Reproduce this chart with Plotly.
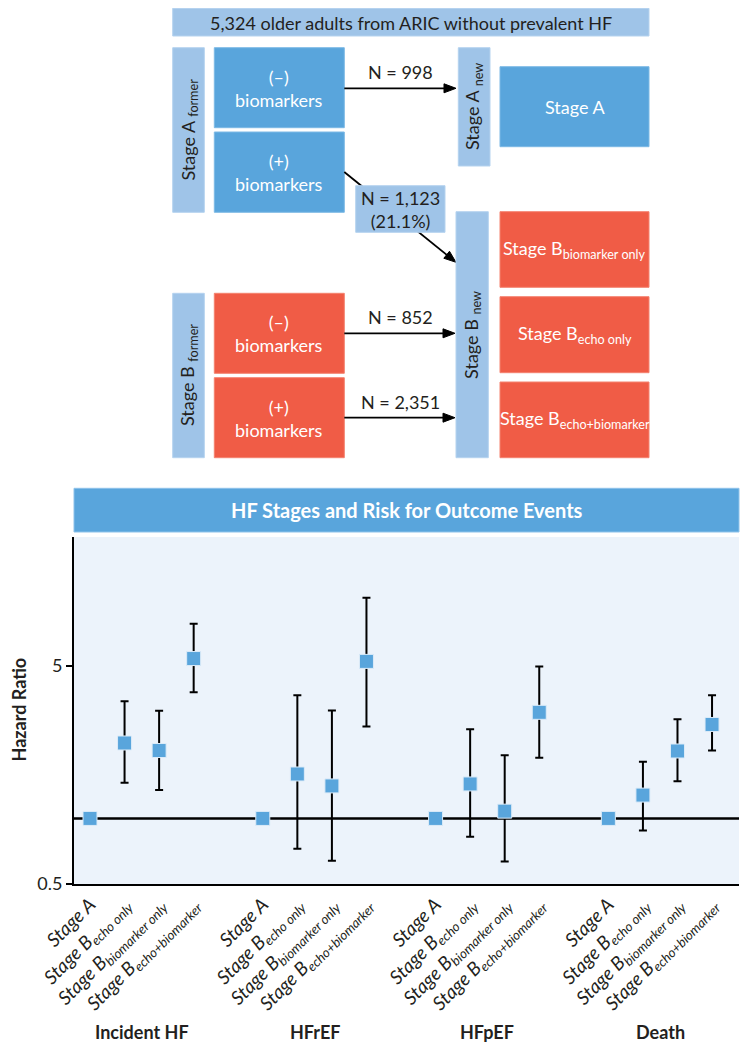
import math
import plotly.graph_objects as go

# ---------------- data ----------------
outcomes = ["Incident HF", "HFrEF", "HFpEF", "Death"]
stage_labels = [
    "<i>Stage A</i>",
    "<i>Stage B<sub>echo only</sub></i>",
    "<i>Stage B<sub>biomarker only</sub></i>",
    "<i>Stage B<sub>echo+biomarker</sub></i>",
]
# hazard ratios (Stage A = reference), lower / upper 95% CI
hr_incident = [1.0, 2.22, 2.05, 5.42]
lo_incident = [1.0, 1.46, 1.35, 3.80]
hi_incident = [1.0, 3.45, 3.12, 7.83]

hr_hfref = [1.0, 1.60, 1.41, 5.26]
lo_hfref = [1.0, 0.725, 0.639, 2.64]
hi_hfref = [1.0, 3.68, 3.13, 10.3]

hr_hfpef = [1.0, 1.44, 1.08, 3.07]
lo_hfpef = [1.0, 0.823, 0.634, 1.90]
hi_hfpef = [1.0, 2.57, 1.95, 4.98]

hr_death = [1.0, 1.28, 2.04, 2.70]
lo_death = [1.0, 0.880, 1.48, 2.05]
hi_death = [1.0, 1.82, 2.85, 3.68]

y_ticks = [0.5, 5]
y_ticktext = ["0.5", "5"]

# flowchart texts
banner_text = "5,324 older adults from ARIC without prevalent HF"
n_998 = "N = 998"
n_1123 = "N = 1,123<br>(21.1%)"
n_852 = "N = 852"
n_2351 = "N = 2,351"

# ---------------- styling / geometry ----------------
OFF = 8                      # page body margin of the html page
W, H = 751 - OFF, 1050 - OFF
ML, MR, MT, MB = 74 - OFF, 12, 537 - OFF, 166
PW, PH = W - ML - MR, H - MT - MB
BOTTOM = 1050 - MB           # in page pixels

BLUE = "#59A5DC"
LBLUE = "#9FC4E8"
RED = "#F05C46"
DARK = "#231F20"
FONT = "Lato, 'Open Sans', sans-serif"


def X(p):
    return (p - 74) / PW


def Y(p):
    return (BOTTOM - p) / PH


shapes = []
annotations = []


def rect(x0, y0, x1, y1, color, edge):
    shapes.append(dict(type="rect", xref="paper", yref="paper",
                       x0=X(x0), x1=X(x1), y0=Y(y1), y1=Y(y0),
                       fillcolor=color, line=dict(color=edge, width=1)))


def text(xc, yc, t, color="white", size=18, angle=0, bold=False):
    if bold:
        t = "<b>" + t + "</b>"
    annotations.append(dict(xref="paper", yref="paper", x=X(xc), y=Y(yc),
                            text=t, showarrow=False, textangle=angle,
                            xanchor="center", yanchor="middle",
                            font=dict(family=FONT, size=size, color=color)))


def arrow(xt, yt, xh, yh, head_len=12, head_half=4.5):
    dx, dy = xh - xt, yh - yt
    L = math.hypot(dx, dy)
    ux, uy = dx / L, dy / L
    bx_, by_ = xh - head_len * ux, yh - head_len * uy
    nx, ny = -uy, ux
    shapes.append(dict(type="line", xref="paper", yref="paper",
                       x0=X(xt), y0=Y(yt), x1=X(bx_ + ux), y1=Y(by_ + uy),
                       line=dict(color="black", width=1.8)))
    p1 = (bx_ + head_half * nx, by_ + head_half * ny)
    p2 = (bx_ - head_half * nx, by_ - head_half * ny)
    path = "M {:.5f},{:.5f} L {:.5f},{:.5f} L {:.5f},{:.5f} Z".format(
        X(xh), Y(yh), X(p1[0]), Y(p1[1]), X(p2[0]), Y(p2[1]))
    shapes.append(dict(type="path", xref="paper", yref="paper", path=path,
                       fillcolor="black", line=dict(color="black", width=1)))


# banner
rect(172.7, 8.3, 649, 36, LBLUE, "#B5D3EF")
text(410.8, 22.5, banner_text, color=DARK, size=18)

# stage A former
rect(172.7, 47.7, 204.3, 212.3, LBLUE, "#B5D3EF")
text(188.5, 130, "Stage A <sub>former</sub>", color=DARK, size=18, angle=-90)
rect(214.3, 47.7, 344.3, 127.7, BLUE, "#7DB9E5")
text(279.3, 88, "(\u2013)<br>biomarkers")
rect(214.3, 132, 344.3, 212.3, BLUE, "#7DB9E5")
text(279.3, 172.5, "(+)<br>biomarkers")

# stage A new
rect(458.3, 47.7, 490, 166, LBLUE, "#B5D3EF")
text(474.2, 106.8, "Stage A <sub>new</sub>", color=DARK, size=18, angle=-90)
rect(500, 66.7, 649, 146.7, BLUE, "#7DB9E5")
text(574.5, 106.7, "Stage A")

# diagonal arrow (passes behind the N box)
arrow(344.3, 172, 456, 262.3)
rect(355.7, 185.7, 445, 232.3, LBLUE, "#B5D3EF")
text(400.3, 209.5, n_1123, color=DARK, size=18)

# stage B former
rect(172.7, 293.3, 204.3, 457.7, LBLUE, "#B5D3EF")
text(188.5, 375.5, "Stage B <sub>former</sub>", color=DARK, size=18, angle=-90)
rect(214.3, 293.3, 344.3, 373.3, RED, "#F4826F")
text(279.3, 333.5, "(\u2013)<br>biomarkers")
rect(214.3, 377.7, 344.3, 457.7, RED, "#F4826F")
text(279.3, 418, "(+)<br>biomarkers")

# stage B new
rect(456, 211.7, 488.3, 457.7, LBLUE, "#B5D3EF")
text(472.2, 334.7, "Stage B <sub>new</sub>", color=DARK, size=18, angle=-90)
rect(500, 211.7, 649, 287.3, RED, "#F4826F")
text(574.5, 249.5, "Stage B<sub>biomarker only</sub>")
rect(500, 296.7, 649, 372.7, RED, "#F4826F")
text(574.5, 334.7, "Stage B<sub>echo only</sub>")
rect(500, 382, 649, 457.7, RED, "#F4826F")
text(574.5, 419.8, "Stage B<sub>echo+biomarker</sub>")

# straight arrows + N labels
text(400, 72, n_998, color=DARK)
arrow(344.3, 88.3, 456, 88.3)
text(400, 317, n_852, color=DARK)
arrow(344.3, 333.3, 455, 333.3)
text(400, 402, n_2351, color=DARK)
arrow(344.3, 417.7, 455, 417.7)

# chart title bar
rect(74, 488.3, 739, 532, BLUE, "#8EC2EA")
text(406.5, 510, "HF Stages and Risk for Outcome Events", size=20, bold=True)

# y-axis title
text(18.5, 710, "Hazard Ratio", color=DARK, size=18, angle=-90, bold=True)

# group labels
for g, name in enumerate(outcomes):
    annotations.append(dict(xref="x", yref="paper", x=g * 5 + 1.5, y=Y(1032),
                            text="<b>" + name + "</b>", showarrow=False,
                            xanchor="center", yanchor="middle",
                            font=dict(family=FONT, size=18, color=DARK)))

# ---------------- traces ----------------
hr_all = [hr_incident, hr_hfref, hr_hfpef, hr_death]
lo_all = [lo_incident, lo_hfref, lo_hfpef, lo_death]
hi_all = [hi_incident, hi_hfref, hi_hfpef, hi_death]

tick_pos, tick_txt = [], []
ax_x, ax_y = [], []
bx, by, bplus, bminus = [], [], [], []
for g in range(len(outcomes)):
    for i in range(len(stage_labels)):
        pos = g * 5 + i
        tick_pos.append(pos)
        tick_txt.append(stage_labels[i])
        if i == 0:
            ax_x.append(pos)
            ax_y.append(hr_all[g][i])
        else:
            bx.append(pos)
            by.append(hr_all[g][i])
            bplus.append(hi_all[g][i] - hr_all[g][i])
            bminus.append(hr_all[g][i] - lo_all[g][i])

fig = go.Figure()
# reference line at HR = 1
fig.add_trace(go.Scatter(x=[-2, 22], y=[1, 1], mode="lines",
                         line=dict(color="black", width=2.4), hoverinfo="skip"))
marker = dict(symbol="square", size=14, color=BLUE,
              line=dict(color="#DCEBF8", width=1))
fig.add_trace(go.Scatter(x=bx, y=by, mode="markers", marker=marker,
                         error_y=dict(type="data", array=bplus, arrayminus=bminus,
                                      symmetric=False, color="black",
                                      thickness=2, width=4)))
fig.add_trace(go.Scatter(x=ax_x, y=ax_y, mode="markers", marker=marker))

fig.update_layout(
    width=W, height=H,
    margin=dict(l=ML, r=MR, t=MT, b=MB, autoexpand=False),
    paper_bgcolor="white", plot_bgcolor="#ECF3FB",
    showlegend=False,
    font=dict(family=FONT, color=DARK),
    shapes=shapes, annotations=annotations,
)
fig.update_xaxes(range=[-0.463, 18.78], tickmode="array", tickvals=tick_pos,
                 ticktext=tick_txt, tickangle=-45, showgrid=False, zeroline=False,
                 showline=True, linecolor="black", linewidth=2, ticks="",
                 tickfont=dict(family=FONT, size=19, color=DARK), automargin=False)
fig.update_yaxes(type="log", range=[-0.301, 1.292], tickmode="array",
                 tickvals=y_ticks, ticktext=y_ticktext, showgrid=False,
                 zeroline=False, showline=True, linecolor="black", linewidth=2,
                 ticks="outside", ticklen=6, tickwidth=1.5, tickcolor="black",
                 tickfont=dict(family=FONT, size=18, color=DARK), automargin=False)

fig.write_html("out.html")
